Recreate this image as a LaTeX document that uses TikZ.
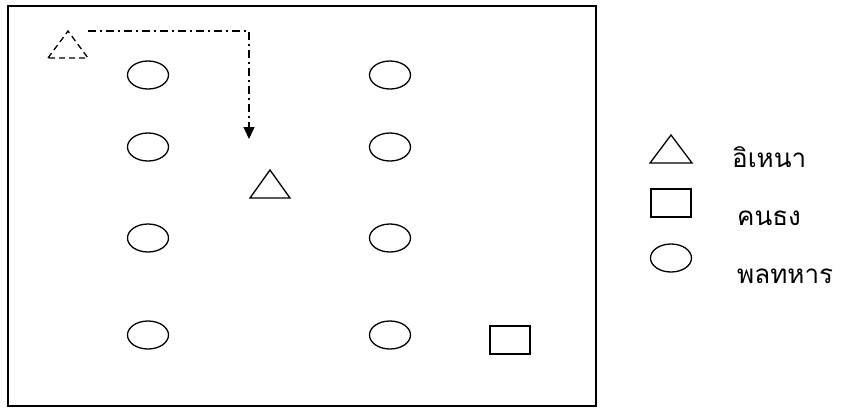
\documentclass[tikz,border=0pt]{standalone}
\usepackage{fontspec}
\newfontfamily\thaifont[Script=Thai]{Loma}
\usetikzlibrary{arrows.meta, positioning, shapes.geometric}

\begin{document}
\begin{tikzpicture}[
    x=1pt, y=-1pt,
    soldier/.style={draw, ellipse, minimum width=41pt, minimum height=28pt, inner sep=0pt, line width=1.3pt},
    flagman/.style={draw, minimum width=40pt, minimum height=28pt, inner sep=0pt, line width=1.3pt},
    lbl/.style={anchor=base west, inner sep=0pt, font=\thaifont\fontsize{26}{30}\selectfont},
    walk/.style={-{Triangle[length=12pt, width=11pt]}, line width=1.3pt, dash pattern=on 8pt off 4pt on 2pt off 4pt}
]
\useasboundingbox (0,0) rectangle (843,408);

% stage
\draw[line width=1.4pt] (8,6) rectangle (596,406);

% soldiers, two columns
\foreach \y [count=\i] in {75,147,238,335} {
  \node[soldier] (sl\i) at (148,\y) {};
  \node[soldier] (sr\i) at (390,\y) {};
}

% flag bearer
\node[flagman] (fb) at (510,340) {};

% Inao, old place (dashed) and new place
\draw[line width=1.3pt, dash pattern=on 6pt off 4pt] (48,58) -- (68,31) -- (88,58) -- cycle;
\coordinate (old) at (88,31);
\coordinate (turn) at (249,31);
\coordinate (stop) at (249,139);
\draw[walk] (old) -- (turn) -- (stop);
\draw[line width=1.3pt] (250,198) -- (270,170) -- (290,198) -- cycle;

% legend
\draw[line width=1.3pt] (650,163) -- (671,135) -- (692,163) -- cycle;
\node[flagman] (kfb) at (671,203) {};
\node[soldier] (ksl) at (671,258) {};
\node[lbl] (tin) at (732,167) {อิเหนา};
\node[lbl] (tfb) at (737,225) {คนธง};
\node[lbl] (tsl) at (737,283) {พลทหาร};
\end{tikzpicture}
\end{document}
